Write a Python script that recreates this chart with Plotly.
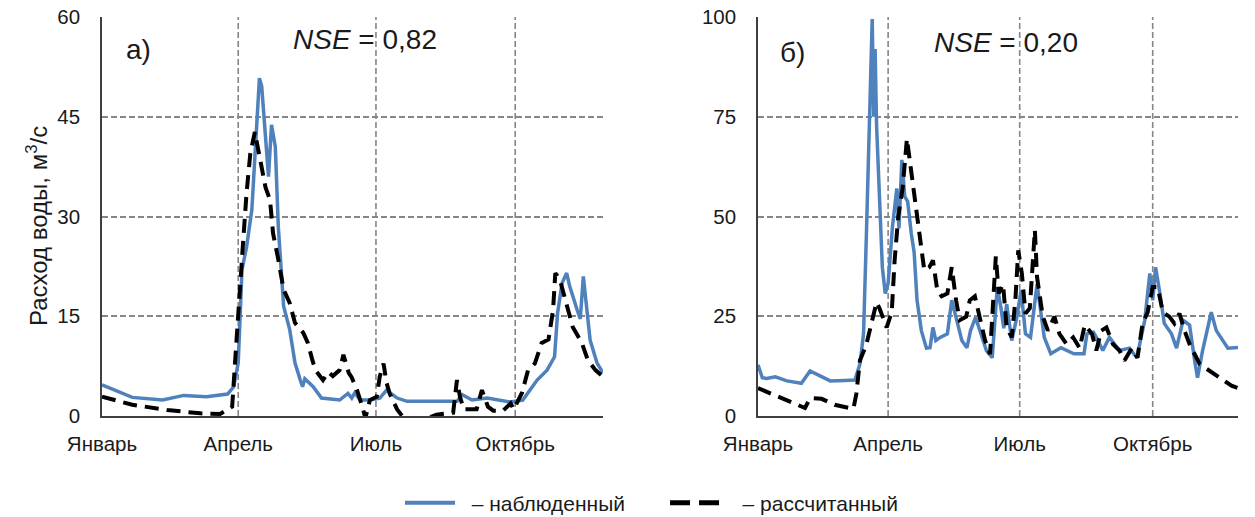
import plotly.graph_objects as go

# ---------------- data ----------------
month_labels = ["Январь", "Апрель", "Июль", "Октябрь"]
month_days = [0, 90, 181, 273]

# panel а) observed
a_obs_day = [0, 20, 40, 54, 69, 83, 87, 90, 92.5, 95.5, 99, 101, 102, 104, 105.5, 108, 110, 112,
             114.5, 116.5, 120, 124, 127.5, 131, 132.5, 134, 139.5, 145, 157, 162.5, 165, 167,
             170.5, 177, 183.5, 188, 195, 201.5, 234.5, 238, 244.5, 254.5, 270, 278, 283, 287.5,
             294, 299, 301, 304, 307, 309, 314, 316, 318, 320.5, 322.5, 327, 331]
a_obs_q = [4.7, 2.8, 2.4, 3.1, 2.9, 3.3, 4.4, 8.0, 22, 25.4, 31, 39, 43.5, 50.8, 49.6, 42, 36, 43.8,
           40.5, 28.4, 16.5, 13, 8, 5.4, 4.4, 5.6, 4.4, 2.7, 2.4, 3.4, 2.7, 3.5,
           2.4, 2.4, 2.7, 3.9, 2.7, 2.2, 2.2, 3.2, 2.4, 2.7, 2.1, 2.4, 3.9, 5.4,
           6.9, 8.9, 15.5, 20, 21.5, 19.5, 15.9, 14.6, 21, 16, 11.4, 8, 6.5]

# panel а) simulated
a_sim_day = [0, 20, 43, 65, 78, 86, 88, 90, 93, 95.5, 98, 101, 104.5, 108, 111, 113, 116.5, 120,
             124, 127.5, 133, 136, 139, 141, 146, 149.5, 152.5, 157, 159.5, 163, 165, 168.5, 172,
             174, 177, 181.5, 183.5, 186, 188, 190, 195, 199, 212, 221, 232, 234.5, 236.5, 239,
             247.5, 251, 255, 258.5, 265, 270, 272, 277.5, 281.5, 286, 290.5, 295, 298, 299.5,
             302.5, 307, 311, 317, 321, 326, 331]
a_sim_q = [2.9, 1.7, 0.9, 0.4, 0.3, 1.4, 8.4, 15.9, 25.4, 33.5, 39.5, 42.7, 38.5, 34.4, 32.5, 27.5,
           23.5, 19, 17, 14, 12.5, 11, 8.4, 6.9, 5.4, 6.6, 6, 6.9, 9.2, 6.5, 5.8, 3.9, 1.4,
           -0.3, 2.4, 2.9, 5.9, 7.9, 5, 3.4, 1, -0.2, -0.6, 0.2, 0.5, 5.4, 2.9, 1,
           1, 3.9, 1.4, 0.8, 0.8, 1.9, 1.0, 3.5, 6.9, 7.9, 11, 11.5, 15.9, 21.5,
           20.5, 17, 13.4, 11, 8.4, 6.9, 5.9]

# panel б) observed
b_obs_day = [0, 3, 6, 12, 20, 30, 36, 43, 50, 60, 67, 70.5, 73, 75, 77, 79, 80, 81, 82, 83,
             84, 86, 88, 90, 93, 96, 97.5, 99.5, 101.5, 103.5, 106, 108, 110, 111.5, 113,
             116.5, 119, 121, 123, 126, 131, 134, 138, 141, 144.5, 147, 150.5, 154, 158, 162,
             165.5, 168, 170, 172, 175.5, 179, 182, 185, 188.5, 193, 198, 202.5, 209.5, 218.5,
             225.5, 227.5, 232, 234, 238.5, 243, 250, 257, 262, 267.5, 271, 273, 275, 278, 281,
             286, 289.5, 294, 298.5, 302, 304, 307.5, 311, 313.5, 317, 321.5, 325, 332]
b_obs_q = [12.8, 9.6, 9.4, 9.8, 8.8, 8.2, 11.3, 10, 8.8, 8.9, 9.0, 13, 20.6, 45.8, 75, 99.5, 75,
           92, 73, 64, 57.5, 37.3, 30.7, 33.2, 47.4, 57, 47, 64.2, 55, 53.8, 45.8, 41, 29,
           25.7, 21.4, 17, 17.1, 22.2, 18.9, 19.7, 20.6, 29, 23.2, 18.9, 17.1, 21.4, 24.7,
           20.6, 16.4, 14.6, 32.3, 27.2, 22, 28, 18.9, 24.7, 31.5, 20.6, 19.7, 33, 19.7, 15.6,
           17.1, 15.6, 15.6, 20.6, 21, 19.7, 16.4, 19.7, 16.4, 17, 14.6, 24, 35.7, 29, 37.3,
           30.7, 23.2, 20.6, 17, 24, 22.8, 13.9, 9.6, 16.4, 22.2, 26, 21.4, 19, 17, 17.2]

# panel б) simulated
b_sim_day = [0, 18.5, 32.5, 36, 44, 53, 66, 68, 70.5, 75, 79, 82, 84, 89, 92.5, 94.5, 97,
             100, 103, 105.5, 108.5, 112, 115, 118.5, 121, 124, 127, 131, 134, 137, 139.5, 144,
             146.5, 150, 153.5, 157, 160.5, 162.5, 164.5, 166.5, 169.5, 172, 175.5, 178, 180,
             182.5, 185, 188, 190, 191.5, 193, 195, 197, 200.5, 205, 208.5, 213.5, 218, 222.5,
             226, 231, 234, 237.5, 241, 245.5, 250, 253.5, 258.5, 262.5, 266, 269.5, 273, 276.5,
             280, 284.5, 288, 291.5, 295, 298.5, 305.5, 312.5, 319, 327.5, 332]
b_sim_q = [7, 4.3, 2, 4.5, 4.3, 2.8, 1.8, 5.5, 13.9, 18, 24, 28.5, 27, 22.2, 26, 39, 50,
           57, 69.5, 62.5, 54, 45.8, 36.5, 37.3, 39, 31.5, 30, 30.7, 37.3, 29, 24, 24.9,
           29, 30, 24, 19, 15.5, 29, 40, 30.7, 33, 22.2, 19.7, 29, 41.5,
           35.7, 25.7, 27, 39.7, 46.6, 34.8, 29, 24.9, 21.4, 24.9, 20.6, 18, 19.7, 17,
           22.8, 20.6, 16.4, 21.4, 22.2, 18, 16.4, 13.9, 17, 14.6, 23.2, 26, 32.3, 32.3,
           26, 24.9, 23.2, 25.7, 21.4, 18, 13, 11.3, 9.6, 7.6, 7]

a_ticks = [0, 15, 30, 45, 60]
b_ticks = [0, 25, 50, 75, 100]
legend_names = ["– наблюденный", "– рассчитанный"]

# ---------------- styles ----------------
W, H = 1255, 517
OBS_COLOR = "#4F81BD"
SIM_COLOR = "#000000"
GRID_COLOR = "#868686"
GRID_DASH = "6px,3px"
TEXT_COLOR = "#1A1A1A"
FONT = "Liberation Sans, Arial, sans-serif"
NB = "\u00a0"

obs_line = dict(color=OBS_COLOR, width=3.5)
sim_line = dict(color=SIM_COLOR, width=4, dash="14px,8px")

fig = go.Figure()
fig.add_trace(go.Scatter(x=a_obs_day, y=a_obs_q, mode="lines", line=obs_line,
                         showlegend=False, xaxis="x", yaxis="y", name=legend_names[0]))
fig.add_trace(go.Scatter(x=a_sim_day, y=a_sim_q, mode="lines", line=sim_line,
                         showlegend=False, xaxis="x", yaxis="y", name=legend_names[1]))
fig.add_trace(go.Scatter(x=b_obs_day, y=b_obs_q, mode="lines", line=obs_line,
                         showlegend=False, xaxis="x2", yaxis="y2", name=legend_names[0]))
fig.add_trace(go.Scatter(x=b_sim_day, y=b_sim_q, mode="lines", line=sim_line,
                         showlegend=False, xaxis="x2", yaxis="y2", name=legend_names[1]))

# legend-only entries (no data) to mimic the reference legend keys
fig.add_trace(go.Scatter(x=[None], y=[None], mode="lines",
                         line=dict(color=OBS_COLOR, width=4),
                         name=NB * 2 + legend_names[0] + NB * 6, xaxis="x", yaxis="y"))
fig.add_trace(go.Scatter(x=[None], y=[None], mode="lines",
                         line=dict(color=SIM_COLOR, width=5, dash="20px,9px"),
                         name=NB * 3 + legend_names[1], xaxis="x", yaxis="y"))

ydom = [1 - 416 / H, 1 - 17 / H]

def xaxis_cfg(domain, anchor, rng):
    return dict(domain=domain, anchor=anchor, range=rng, tickmode="array", automargin=False,
                tickvals=month_days, ticktext=month_labels, showgrid=False, zeroline=False,
                showline=True, linecolor="#404040", linewidth=1.5,
                ticks="outside", ticklen=9, tickcolor="rgba(0,0,0,0)",
                tickfont=dict(size=20.5, color=TEXT_COLOR, family=FONT))

def yaxis_cfg(anchor, rng, ticks):
    return dict(domain=ydom, anchor=anchor, range=rng, tickmode="array", tickvals=ticks,
                automargin=False,
                showgrid=True, gridcolor=GRID_COLOR, griddash=GRID_DASH, gridwidth=1.6,
                zeroline=False, showline=True, linecolor="#404040", linewidth=1.5,
                ticks="outside", ticklen=16, tickcolor="rgba(0,0,0,0)",
                tickfont=dict(size=20.5, color=TEXT_COLOR, family=FONT))

fig.update_layout(
    width=W, height=H,
    margin=dict(l=0, r=0, t=0, b=0, autoexpand=False),
    paper_bgcolor="white", plot_bgcolor="white",
    font=dict(family=FONT, color=TEXT_COLOR),
    xaxis=xaxis_cfg([102 / W, 603 / W], "y", [0, 331]),
    yaxis=yaxis_cfg("x", [0, 60], a_ticks),
    xaxis2=xaxis_cfg([758 / W, 1238 / W], "y2", [0, 332]),
    yaxis2=yaxis_cfg("x2", [0, 100], b_ticks),
    showlegend=True,
    legend=dict(orientation="h", x=400 / W, xanchor="left", y=1 - 503 / H, yanchor="middle",
                font=dict(size=21, color=TEXT_COLOR, family=FONT), itemwidth=50,
                bgcolor="rgba(0,0,0,0)"),
)

# vertical dashed grid lines at month starts
shapes = []
for xr, yr in (("x", "y domain"), ("x2", "y2 domain")):
    for d in month_days[1:]:
        shapes.append(dict(type="line", xref=xr, yref=yr, x0=d, x1=d, y0=0, y1=1,
                           line=dict(color=GRID_COLOR, width=1.6, dash=GRID_DASH), layer="below"))
fig.update_layout(shapes=shapes)

ann_font_big = dict(size=28, color=TEXT_COLOR, family=FONT)
def label(text, x, y, font, angle=0):
    fig.add_annotation(text=text, xref="paper", yref="paper", x=x / W, y=1 - y / H,
                       xanchor="center", yanchor="middle", textangle=angle,
                       showarrow=False, font=font)

label("<i>NSE</i> = 0,82", 365, 40, ann_font_big)
label("<i>NSE</i> = 0,20", 1006, 42, ann_font_big)
label("а)", 138, 49, ann_font_big)
label("б)", 793, 52, ann_font_big)
label("Расход воды, м<sup>3</sup>/с", 37, 226, dict(size=24, color=TEXT_COLOR, family=FONT), -90)

fig.write_html("out.html", config={"displayModeBar": False},
               post_script="document.body.style.margin='0';")
